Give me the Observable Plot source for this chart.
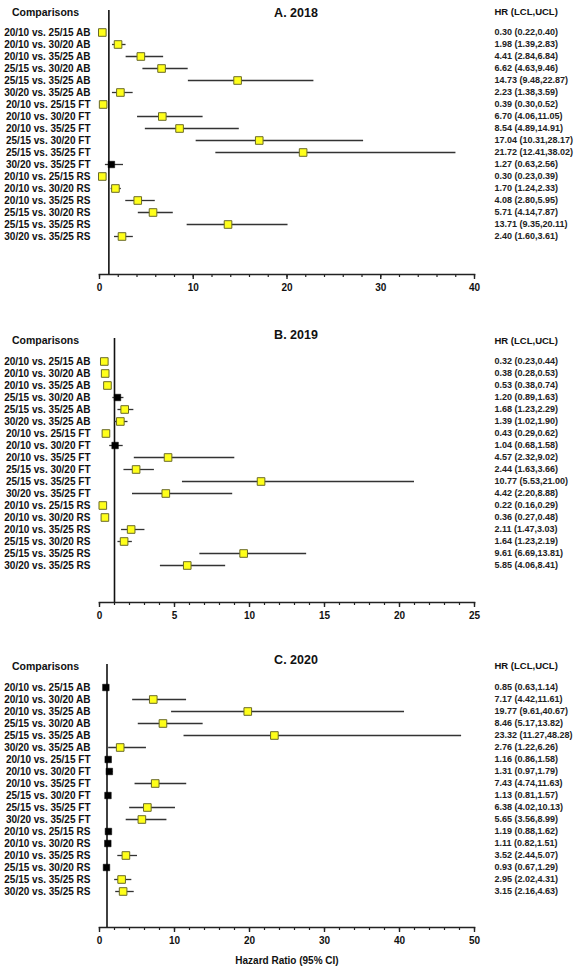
<!DOCTYPE html>
<html>
<head>
<meta charset="utf-8">
<script src="https://cdn.jsdelivr.net/npm/d3@7"></script>
<script src="https://cdn.jsdelivr.net/npm/@observablehq/plot@0.6"></script>
<style>
  html, body { margin: 0; padding: 0; background: #fff; overflow: hidden; }
  #chart { width: 578px; }
  #chart svg { display: block; overflow: visible; max-width: none; }
</style>
</head>
<body>
<div id="chart"></div>
<script>
// Pairwise comparisons (same order in every year)
const comparisons = [
  "20/10 vs. 25/15 AB", "20/10 vs. 30/20 AB", "20/10 vs. 35/25 AB",
  "25/15 vs. 30/20 AB", "25/15 vs. 35/25 AB", "30/20 vs. 35/25 AB",
  "20/10 vs. 25/15 FT", "20/10 vs. 30/20 FT", "20/10 vs. 35/25 FT",
  "25/15 vs. 30/20 FT", "25/15 vs. 35/25 FT", "30/20 vs. 35/25 FT",
  "20/10 vs. 25/15 RS", "20/10 vs. 30/20 RS", "20/10 vs. 35/25 RS",
  "25/15 vs. 30/20 RS", "25/15 vs. 35/25 RS", "30/20 vs. 35/25 RS"
];

// 2018 hazard ratios with 95% confidence limits
const hr2018  = [0.30, 1.98, 4.41, 6.62, 14.73, 2.23, 0.39, 6.70, 8.54, 17.04, 21.72, 1.27, 0.30, 1.70, 4.08, 5.71, 13.71, 2.40];
const lcl2018 = [0.22, 1.39, 2.84, 4.63, 9.48, 1.38, 0.30, 4.06, 4.89, 10.31, 12.41, 0.63, 0.23, 1.24, 2.80, 4.14, 9.35, 1.60];
const ucl2018 = [0.40, 2.83, 6.84, 9.46, 22.87, 3.59, 0.52, 11.05, 14.91, 28.17, 38.02, 2.56, 0.39, 2.33, 5.95, 7.87, 20.11, 3.61];

// 2019
const hr2019  = [0.32, 0.38, 0.53, 1.20, 1.68, 1.39, 0.43, 1.04, 4.57, 2.44, 10.77, 4.42, 0.22, 0.36, 2.11, 1.64, 9.61, 5.85];
const lcl2019 = [0.23, 0.28, 0.38, 0.89, 1.23, 1.02, 0.29, 0.68, 2.32, 1.63, 5.53, 2.20, 0.16, 0.27, 1.47, 1.23, 6.69, 4.06];
const ucl2019 = [0.44, 0.53, 0.74, 1.63, 2.29, 1.90, 0.62, 1.58, 9.02, 3.66, 21.00, 8.88, 0.29, 0.48, 3.03, 2.19, 13.81, 8.41];

// 2020
const hr2020  = [0.85, 7.17, 19.77, 8.46, 23.32, 2.76, 1.16, 1.31, 7.43, 1.13, 6.38, 5.65, 1.19, 1.11, 3.52, 0.93, 2.95, 3.15];
const lcl2020 = [0.63, 4.42, 9.61, 5.17, 11.27, 1.22, 0.86, 0.97, 4.74, 0.81, 4.02, 3.56, 0.88, 0.82, 2.44, 0.67, 2.02, 2.16];
const ucl2020 = [1.14, 11.61, 40.67, 13.82, 48.28, 6.26, 1.58, 1.79, 11.63, 1.57, 10.13, 8.99, 1.62, 1.51, 5.07, 1.29, 4.31, 4.63];

// Axis tick values
const ticks2018 = [0, 10, 20, 30, 40];
const ticks2019 = [0, 5, 10, 15, 20, 25];
const ticks2020 = [0, 10, 20, 30, 40, 50];
const minor2018 = d3.range(0, 40.01, 2);
const minor2019 = d3.range(0, 25.01, 1);
const minor2020 = d3.range(0, 50.01, 2);

const fmt = v => v.toFixed(2);

function rows(hr, lcl, ucl) {
  return comparisons.map((c, i) => ({
    comp: c, hr: hr[i], lcl: lcl[i], ucl: ucl[i],
    sig: !(lcl[i] <= 1 && ucl[i] >= 1)
  }));
}

function panel({title, data, ticks, minor, height, marginTop, marginBottom, rowRange, titleDy, headDy, xLabel}) {
  const max = ticks[ticks.length - 1];
  const colDx = 20; // offset of the HR column from the plot's right edge
  const marks = [
    // reference line at HR = 1
    Plot.ruleX([1], {stroke: "#111", strokeWidth: 1.6}),
    // x axis baseline
    Plot.frame({anchor: "bottom", stroke: "#222", strokeWidth: 1.6}),
    Plot.axisX({ticks: minor, tickSize: 3, tickFormat: () => "", stroke: "#222", strokeWidth: 1.2, label: null}),
    Plot.axisX({ticks, tickSize: 5, tickPadding: 4, stroke: "#222", strokeWidth: 1.4, label: null,
                fontSize: 10, fontWeight: "bold", fill: "#111", tickFormat: d => String(d)}),
    Plot.axisY({tickSize: 0, tickPadding: 9, fontSize: 10, fontWeight: "bold", fill: "#111", label: null}),
    // confidence intervals
    Plot.ruleY(data, {y: "comp", x1: "lcl", x2: "ucl", stroke: "#333", strokeWidth: 1.3}),
    // point estimates: black where the interval spans 1, yellow otherwise
    Plot.dot(data.filter(d => !d.sig), {x: "hr", y: "comp", symbol: "square", r: 3.7, fill: "#000", stroke: "#000", strokeWidth: 0.5}),
    Plot.dot(data.filter(d => d.sig), {x: "hr", y: "comp", symbol: "square", r: 4.3, fill: "#ffff1a", stroke: "#6a6a2a", strokeWidth: 1}),
    // HR (LCL,UCL) column
    Plot.text(data, {y: "comp", frameAnchor: "right", dx: colDx, textAnchor: "start",
                     text: d => `${fmt(d.hr)} (${fmt(d.lcl)},${fmt(d.ucl)})`,
                     fontSize: 9, fontWeight: "bold", fill: "#222"}),
    // headers
    Plot.text(["HR (LCL,UCL)"], {frameAnchor: "top-right", dx: colDx, dy: headDy, textAnchor: "start",
                                 fontSize: 9.5, fontWeight: "bold", fill: "#111"}),
    Plot.text(["Comparisons"], {frameAnchor: "top-left", dx: -54, dy: headDy, textAnchor: "middle",
                                fontSize: 10.5, fontWeight: "bold", fill: "#111"}),
    Plot.text([title], {frameAnchor: "top", dx: 9, dy: titleDy, fontSize: 12.5, fontWeight: "bold", fill: "#111"})
  ];
  if (xLabel) {
    marks.push(Plot.text([xLabel], {frameAnchor: "bottom", dy: 36, fontSize: 10, fontWeight: "bold", fill: "#111"}));
  }
  return Plot.plot({
    width: 578,
    height,
    marginLeft: 99,
    marginRight: 104,
    marginTop,
    marginBottom,
    style: {fontFamily: "'Liberation Sans', Arial, sans-serif", overflow: "visible"},
    x: {domain: [0, max], axis: null},
    y: {type: "point", domain: comparisons, range: rowRange, axis: null},
    marks
  });
}

const chart = document.getElementById("chart");
chart.append(panel({
  title: "A. 2018", data: rows(hr2018, lcl2018, ucl2018), ticks: ticks2018, minor: minor2018,
  height: 300, marginTop: 10, marginBottom: 26, rowRange: [22.5, 245.5], titleDy: -2, headDy: -2
}));
chart.append(panel({
  title: "B. 2019", data: rows(hr2019, lcl2019, ucl2019), ticks: ticks2019, minor: minor2019,
  height: 326, marginTop: 38, marginBottom: 24, rowRange: [51, 274], titleDy: -8, headDy: -1.5
}));
chart.append(panel({
  title: "C. 2020", data: rows(hr2020, lcl2020, ucl2020), ticks: ticks2020, minor: minor2020,
  height: 343, marginTop: 38, marginBottom: 42, rowRange: [51, 274], titleDy: -9, headDy: -2,
  xLabel: "Hazard Ratio (95% CI)"
}));
</script>
</body>
</html>
